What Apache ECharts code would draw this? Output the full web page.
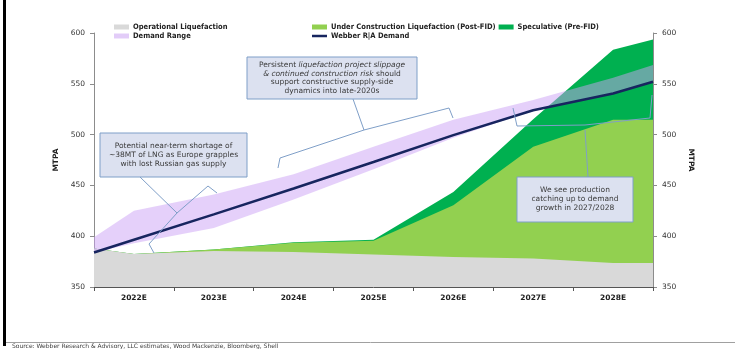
<!DOCTYPE html>
<html>
<head>
<meta charset="utf-8">
<script src="https://cdn.jsdelivr.net/npm/echarts@6/dist/echarts.min.js"></script>
<style>
html,body{margin:0;padding:0;background:#fff;}
#chart{width:735px;height:349px;}
</style>
</head>
<body>
<div id="chart"></div>
<script>
// ---- data (MTPA) ----
const years = ['2022E','2023E','2024E','2025E','2026E','2027E','2028E'];
// values at: left edge of 2022E, centre of each year, right edge of 2028E
const operational       = [388, 382.5, 385.5, 384.5, 382, 379.5, 378, 373.5, 373.5];
const underConstruction = [0, 0, 1.5, 9, 13.5, 51, 110, 141, 141];
const speculative       = [0, 0, 0, 0.5, 1, 13, 27, 69, 79];
const demandLow         = [384, 393, 408, 436, 466, 497, 524, 540.5, 552];
const demandHigh        = [399, 425, 441, 461, 488, 514.5, 534, 556, 568.5];
const demand            = [384, 396.5, 421.5, 447, 473, 499.5, 524, 540.5, 552];
const yTicks = [350, 400, 450, 500, 550, 600];

const seriesNames = {
  op: 'Operational Liquefaction',
  uc: 'Under Construction Liquefaction (Post-FID)',
  sp: 'Speculative (Pre-FID)',
  dr: 'Demand Range',
  dm: 'Webber R|A Demand'
};
const colors = {op: '#D9D9D9', uc: '#92D050', sp: '#00B050', dr: 'rgba(203,161,245,0.5)', dm: '#17255F'};

const xPos = [0].concat(years.map((_, i) => i + 0.5), [years.length]);
const pts = arr => arr.map((v, i) => [xPos[i], v]);
// cumulative tops of the stacked supply areas
const opTop = operational.slice();
const ucTop = operational.map((v, i) => v + underConstruction[i]);
const spTop = ucTop.map((v, i) => v + speculative[i]);

const FONT = 'DejaVu Sans';
const lineCol = '#7F9FC8';

const chart = echarts.init(document.getElementById('chart'), null, {renderer: 'canvas'});

const legendBase = {
  orient: 'horizontal', itemWidth: 15, itemHeight: 5, itemGap: 3,
  icon: 'rect', selectedMode: false,
  textStyle: {fontFamily: 'DejaVu Sans Condensed', fontWeight: 'bold', fontSize: 7.5, color: '#222', padding: [0,0,0,-1]}
};

const yAxisBase = {
  type: 'value', min: yTicks[0], max: yTicks[yTicks.length - 1], interval: 50,
  axisLine: {show: true, lineStyle: {color: '#8c8c8c', width: 1}},
  axisTick: {show: true, length: 4, lineStyle: {color: '#8c8c8c'}},
  axisLabel: {fontFamily: FONT, fontSize: 7.5, color: '#333', margin: 9},
  splitLine: {show: false},
  name: 'MTPA', nameLocation: 'middle',
  nameTextStyle: {fontFamily: FONT, fontWeight: 'bold', fontSize: 7.5, color: '#222'}
};

function box(x, y, w, h, text, lh, fs) {
  return [
    {type: 'rect', shape: {x: x, y: y, width: w, height: h}, z: 100,
     style: {fill: '#DCE1F0', stroke: lineCol, lineWidth: 1}},
    {type: 'text', x: x + w / 2, y: y + h / 2, z: 101,
     style: {text: text, align: 'center', verticalAlign: 'middle',
       font: fs + 'px "DejaVu Sans"', fill: '#3a3a3a', lineHeight: lh,
       rich: {
         n: {fontFamily: FONT, fontSize: fs, lineHeight: lh, fill: '#3a3a3a'},
         i: {fontFamily: FONT, fontSize: fs, fontStyle: 'italic', lineHeight: lh, fill: '#3a3a3a'}
       }}}
  ];
}
function pl(points) {
  return {type: 'polyline', z: 102, shape: {points: points},
    style: {stroke: lineCol, lineWidth: 1, fill: null}};
}
function areaSeries(name, data, color, z) {
  return {name: name, type: 'line', xAxisIndex: 0, yAxisIndex: 0, symbol: 'none',
    data: pts(data), itemStyle: {color: color}, lineStyle: {width: 0, opacity: 0},
    areaStyle: {color: color, opacity: 1}, z: z};
}

const option = {
  animation: false,
  backgroundColor: '#fff',
  grid: {left: 94, right: 82, top: 33, bottom: 62},
  legend: [
    Object.assign({}, legendBase, {left: 109, top: 18, data: [seriesNames.op]}),
    Object.assign({}, legendBase, {left: 307, top: 18, data: [seriesNames.uc, seriesNames.sp]}),
    Object.assign({}, legendBase, {left: 109, top: 27,
      data: [{name: seriesNames.dr, itemStyle: {color: '#E2CCF8'}}]}),
    Object.assign({}, legendBase, {left: 307, top: 27, itemHeight: 2.5, data: [seriesNames.dm]})
  ],
  xAxis: [
    {type: 'value', min: 0, max: years.length, interval: 1,
     axisLine: {show: true, lineStyle: {color: '#555', width: 1}},
     axisTick: {show: true, length: 4, lineStyle: {color: '#555'}},
     axisLabel: {show: false}, splitLine: {show: false}},
    {type: 'category', data: years, boundaryGap: true, position: 'bottom',
     axisLine: {show: false}, axisTick: {show: false},
     axisLabel: {fontFamily: FONT, fontWeight: 'bold', fontSize: 7.5, color: '#222', margin: 7},
     splitLine: {show: false}}
  ],
  yAxis: [
    Object.assign({}, yAxisBase, {position: 'left', nameGap: 33, nameRotate: 90}),
    Object.assign({}, yAxisBase, {position: 'right', nameGap: 22, nameRotate: -90})
  ],
  series: [
    areaSeries(seriesNames.sp, spTop, colors.sp, 2),
    areaSeries(seriesNames.uc, ucTop, colors.uc, 3),
    areaSeries(seriesNames.op, opTop, colors.op, 4),
    {name: seriesNames.dr, type: 'custom', xAxisIndex: 0, yAxisIndex: 0, z: 5,
     itemStyle: {color: '#E2CCF8'},
     data: xPos.map((x, i) => [x, demandLow[i], demandHigh[i]]),
     encode: {x: 0, y: [1, 2]},
     renderItem: function (params, api) {
       if (params.dataIndex !== 0) return null;
       const upper = xPos.map((x, i) => api.coord([x, demandHigh[i]]));
       const lower = xPos.map((x, i) => api.coord([x, demandLow[i]])).reverse();
       return {type: 'polygon', shape: {points: upper.concat(lower)},
               style: {fill: colors.dr, stroke: null}};
     }},
    {name: seriesNames.dm, type: 'line', xAxisIndex: 0, yAxisIndex: 0, symbol: 'none',
     data: pts(demand), itemStyle: {color: colors.dm},
     lineStyle: {width: 2.5, color: colors.dm}, z: 6}
  ],
  graphic: [
    {type: 'rect', shape: {x: 3, y: 0, width: 3, height: 346}, style: {fill: '#000'}, z: 100},
    {type: 'line', shape: {x1: 6, y1: 342.5, x2: 735, y2: 342.5}, style: {stroke: '#a0a0a0', lineWidth: 1}, z: 100},
    {type: 'text', x: 12, y: 346, z: 100,
     style: {text: 'Source: Webber Research & Advisory, LLC estimates, Wood Mackenzie, Bloomberg, Shell',
       font: '6px "DejaVu Sans"', fill: '#404040', verticalAlign: 'middle'}},
    // connectors
    pl([[140, 177], [177, 213]]),
    pl([[217, 193], [208, 186], [177, 213], [149, 244], [154, 253]]),
    pl([[353, 99], [364, 130]]),
    pl([[278, 168], [280, 158], [364, 130], [449, 108], [453, 118]]),
    pl([[588, 177], [585, 130]]),
    pl([[513, 108], [517, 126], [585, 125], [650, 118], [652, 95]])
  ].concat(
    box(247, 57, 170, 42, '{n|Persistent }{i|liquefaction project slippage}\n{i|& continued construction risk}{n| should}\n{n|support constructive supply-side}\n{n|dynamics into late-2020s}', 8.7, 7.5),
    box(100, 133, 147, 44, '{n|Potential near-term shortage of}\n{n|~38MT of LNG as Europe grapples}\n{n|with lost Russian gas supply}', 9, 7.5),
    box(517, 177, 116, 45, '{n|We see production}\n{n|catching up to demand}\n{n|growth in 2027/2028}', 9, 7.5)
  )
};
chart.setOption(option);
</script>
</body>
</html>
